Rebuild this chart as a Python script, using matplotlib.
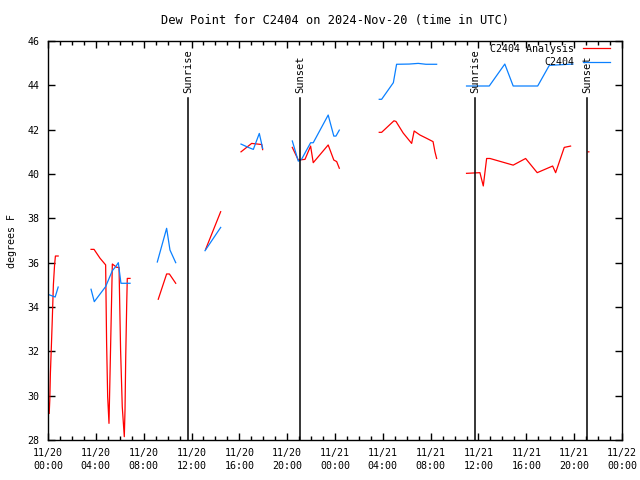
import numpy as np
import matplotlib
matplotlib.use("Agg")
import matplotlib.pyplot as plt

nan = np.nan

# hours since 2024-11-20 00:00 UTC, nan = gap
analysis_h = [0.10, 0.15, 0.20, 0.28, 0.35, 0.45, 0.55, 0.62, 0.85, nan,
              3.60, 3.85, 4.35, 4.82, 4.90, 4.99, 5.10, 5.38, 5.74, 5.94, 6.07, 6.21, 6.38, 6.44, 6.50, 6.58, 6.63, 6.86, nan,
              9.22, 9.92, 10.15, 10.68, nan,
              13.18, 14.44, nan,
              16.14, 17.03, 17.87, 17.95, nan,
              20.43, 20.93, 21.49, 21.96, 22.18, 23.43, 23.90, 24.14, 24.36, nan,
              27.70, 27.90, 28.93, 29.10, 29.70, 30.41, 30.62, 31.10, 31.66, 32.20, 32.36, 32.50, nan,
              35.00, 36.12, 36.40, 36.68, 36.96, 38.90, 39.94, 40.91, 42.20, 42.45, 43.17, 43.70, nan,
              45.17, 45.23]
analysis_v = [29.2, 29.8, 31.0, 32.2, 33.3, 35.0, 35.9, 36.3, 36.3, nan,
              36.6, 36.6, 36.2, 35.9, 32.4, 29.95, 28.75, 35.94, 35.79, 35.79, 32.06, 29.5, 28.15, 29.35, 31.76, 34.09, 35.29, 35.29, nan,
              34.35, 35.49, 35.49, 35.07, nan,
              36.6, 38.3, nan,
              41.0, 41.38, 41.33, 41.1, nan,
              41.2, 40.63, 40.66, 41.26, 40.51, 41.31, 40.63, 40.56, 40.26, nan,
              41.88, 41.88, 42.4, 42.37, 41.85, 41.38, 41.94, 41.76, 41.61, 41.46, 41.0, 40.7, nan,
              40.03, 40.06, 39.46, 40.7, 40.7, 40.4, 40.7, 40.06, 40.36, 40.06, 41.2, 41.26, nan,
              41.0, 41.0]

obs_h = [0.10, 0.60, 0.85, nan,
         3.60, 3.87, 4.82, 5.38, 5.66, 5.88, 6.10, 6.86, nan,
         9.14, 9.92, 10.20, 10.68, nan,
         13.13, 14.44, nan,
         16.14, 16.75, 17.17, 17.67, 17.95, nan,
         20.43, 20.93, 21.20, 21.96, 22.18, 23.43, 23.90, 24.08, 24.36, nan,
         27.70, 27.90, 28.88, 29.15, 30.20, 30.96, 31.60, 32.50, nan,
         35.00, 36.90, 38.20, 38.90, 40.95, 41.92, 43.90]
obs_v = [34.55, 34.45, 34.9, nan,
         34.8, 34.24, 34.92, 35.64, 35.82, 36.0, 35.07, 35.07, nan,
         36.03, 37.55, 36.57, 36.0, nan,
         36.54, 37.59, nan,
         41.35, 41.2, 41.11, 41.83, 41.16, nan,
         41.49, 40.58, 40.66, 41.41, 41.41, 42.66, 41.71, 41.71, 41.98, nan,
         43.37, 43.37, 44.12, 44.95, 44.96, 44.99, 44.95, 44.95, nan,
         43.97, 43.97, 44.96, 43.97, 43.97, 44.9, 44.96]

sun_h = [11.7, 21.1, 35.7, 45.1]
sun_lbl = ["Sunrise", "Sunset", "Sunrise", "Sunset"]

tick_h = list(range(0, 49, 4))
tick_lbl = ["11/20\n00:00", "11/20\n04:00", "11/20\n08:00", "11/20\n12:00",
            "11/20\n16:00", "11/20\n20:00", "11/21\n00:00", "11/21\n04:00",
            "11/21\n08:00", "11/21\n12:00", "11/21\n16:00", "11/21\n20:00",
            "11/22\n00:00"]

plt.rcParams['font.family'] = ['DejaVu Sans Mono']
plt.rcParams['font.size'] = 7.2

fig = plt.figure(figsize=(6.4, 4.8), dpi=100)
ax = fig.add_axes([48/640, 40/480, 574/640, 399/480])

ax.plot(analysis_h, analysis_v, color='red', lw=0.9, label='C2404 Analysis')
ax.plot(obs_h, obs_v, color='#0a80ff', lw=0.9, label='C2404')

for h, s in zip(sun_h, sun_lbl):
    ax.plot([h, h], [28, 43.43], color='black', lw=1.1)
    ax.text(h, 43.65, s, rotation=90, ha='center', va='bottom', fontsize=7.5)

ax.set_xlim(0, 48)
ax.set_ylim(28, 46)
ax.set_xticks(tick_h)
ax.set_xticklabels(tick_lbl, linespacing=1.35)
ax.set_xticks(range(0, 49), minor=True)
ax.set_yticks(range(28, 47, 2))
ax.tick_params(direction='in', top=True, right=True, length=5, width=1, pad=6)
ax.tick_params(which='minor', direction='in', top=True, length=3, width=1)
for sp in ax.spines.values():
    sp.set_linewidth(1)

ax.set_title('Dew Point for C2404 on 2024-Nov-20 (time in UTC)', pad=12)
ax.set_ylabel('degrees F', labelpad=8)

ax.legend(loc='upper right', bbox_to_anchor=(1 - 10/574, 1 - 1/399),
          frameon=False, markerfirst=False,
          handlelength=2.7, borderaxespad=0, borderpad=0.2,
          labelspacing=0.35, handletextpad=0.9)

fig.savefig('out.png', dpi=100)
